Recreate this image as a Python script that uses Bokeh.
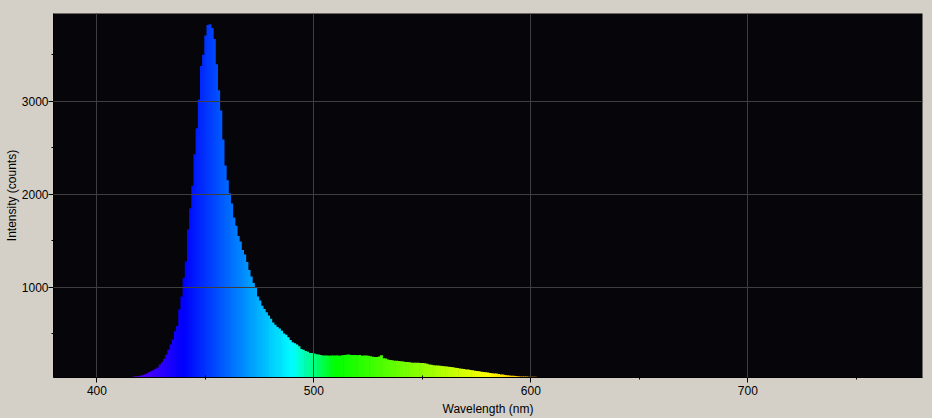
from bokeh.plotting import figure
from bokeh.models import Range1d, FixedTicker, ColumnDataSource
from bokeh.embed import file_html
from bokeh.resources import INLINE

# ---- data ----
wl_start = 417
intensity = [
    38, 41, 41, 45, 52, 60, 70, 84, 95, 105,            # 417-426
    120, 135, 166, 191, 228, 274, 327, 381, 435, 524,   # 427-436
    580, 760, 900, 1100, 1275, 1620, 1850, 2090, 2430, 2710,  # 437-446
    3020, 3380, 3500, 3709, 3820, 3830, 3790, 3670, 3400, 3120,  # 447-456
    2900, 2590, 2310, 2150, 2010, 1900, 1750, 1660, 1550, 1490,  # 457-466
    1400, 1350, 1270, 1185, 1115, 1045, 990, 900, 855, 800,      # 467-476
    765, 730, 695, 660, 620, 596, 570, 555, 530, 500,            # 477-486
    488, 460, 430, 406, 395, 381, 363, 335, 325, 312,            # 487-496
    303, 292, 290, 285, 278, 274, 268, 264, 263, 264,            # 497-506
    262, 265, 264, 263, 265, 262, 266, 270, 272, 274,            # 507-516
    270, 268, 270, 266, 268, 262, 263, 265, 260, 255,            # 517-526
    250, 249, 247, 252, 266, 235, 231, 222, 215, 212,            # 527-536
    208, 206, 205, 203, 198, 195, 193, 190, 187, 186,            # 537-546
    185, 186, 184, 183, 180, 175, 168, 164, 160, 157,            # 547-556
    155, 153, 150, 148, 146, 144, 140, 137, 133, 128,            # 557-566
    124, 122, 118, 114, 112, 108, 104, 101, 97, 94,              # 567-576
    90, 86, 84, 82, 76, 73, 71, 70, 64, 60,                      # 577-586
    58, 55, 50, 48, 47, 45, 42, 40, 38, 38,                      # 587-596
    37, 37, 36, 35, 34, 34, 33, 33,                              # 597-604
]
wavelength = [wl_start + i for i in range(len(intensity))]

x_ticks = [400, 500, 600, 700]
x_minor = [450, 550, 650, 750]
y_ticks = [1000, 2000, 3000]
y_minor = [500, 1500, 2500, 3500]


def wl_to_hex(w):
    if w < 440:
        r, g, b = (440 - w) / 60.0, 0.0, 1.0
    elif w < 490:
        r, g, b = 0.0, (w - 440) / 50.0, 1.0
    elif w < 510:
        r, g, b = 0.0, 1.0, (510 - w) / 20.0
    elif w < 580:
        r, g, b = (w - 510) / 70.0, 1.0, 0.0
    elif w < 645:
        r, g, b = 1.0, (645 - w) / 65.0, 0.0
    else:
        r, g, b = 1.0, 0.0, 0.0
    f = 1.0
    if w < 420:
        f = 0.3 + 0.7 * (w - 380) / 40.0
    return "#%02x%02x%02x" % (int(255 * r * f), int(255 * g * f), int(255 * b * f))


colors = [wl_to_hex(w) for w in wavelength]
src = ColumnDataSource(dict(
    left=[w - 0.5 for w in wavelength],
    right=[w + 0.8 for w in wavelength],
    top=intensity,
    bottom=[0] * len(intensity),
    color=colors,
))

BG = "#d4d0c8"
p = figure(width=932, height=418, output_backend="svg", toolbar_location=None,
           x_range=Range1d(380, 780.5), y_range=Range1d(27, 3945),
           min_border_left=53, min_border_right=10, min_border_top=13, min_border_bottom=40)
p.background_fill_color = "#060509"
p.border_fill_color = BG
p.outline_line_color = None

p.quad(left="left", right="right", bottom="bottom", top="top", source=src,
       fill_color="color", line_color=None)

FONT = "Liberation Sans"
for ax in (p.xaxis[0], p.yaxis[0]):
    ax.major_label_text_font = FONT
    ax.major_label_text_font_size = "12px"
    ax.major_label_text_color = "black"
    ax.axis_label_text_font = FONT
    ax.axis_label_text_font_size = "12px"
    ax.axis_label_text_font_style = "normal"
    ax.axis_label_text_color = "black"
    ax.axis_line_color = "black"
    ax.major_tick_line_color = "black"
    ax.minor_tick_line_color = "black"
    ax.major_tick_out = 5
    ax.major_tick_in = 0
    ax.minor_tick_out = 2
    ax.minor_tick_in = 2

p.yaxis[0].major_label_standoff = 0
p.yaxis[0].axis_label_standoff = 0
p.xaxis[0].major_label_standoff = 3
p.xaxis[0].axis_label_standoff = 4

p.xaxis[0].ticker = FixedTicker(ticks=x_ticks, minor_ticks=x_minor)
p.yaxis[0].ticker = FixedTicker(ticks=y_ticks, minor_ticks=y_minor)
p.xaxis[0].axis_label = "Wavelength (nm)"
p.yaxis[0].axis_label = "Intensity (counts)"

p.xgrid[0].ticker = FixedTicker(ticks=x_ticks)
p.ygrid[0].ticker = FixedTicker(ticks=y_ticks)
p.grid.grid_line_color = "#3e3e3e"
p.grid.grid_line_width = 1
p.grid.level = "overlay"

html = file_html(p, INLINE)
html = html.replace("</head>", "<style>body{background:#d4d0c8;}</style></head>", 1)
open("out.html", "w").write(html)
